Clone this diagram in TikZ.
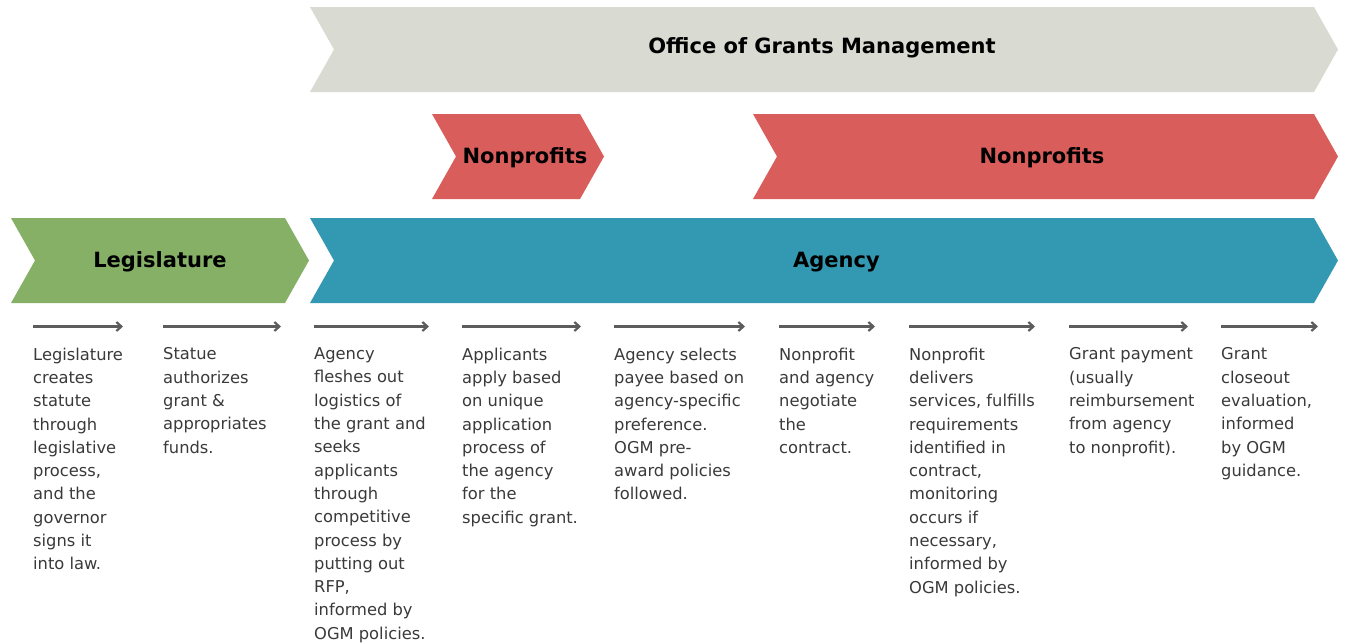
\documentclass[tikz,border=0pt]{standalone}
\usepackage{fontspec}
\setmainfont{DejaVu Sans}
\usepackage{tikz}
\usetikzlibrary{arrows.meta}
\definecolor{ogmgray}{HTML}{D9DAD1}
\definecolor{npred}{HTML}{D95D5A}
\definecolor{leggreen}{HTML}{86B066}
\definecolor{agblue}{HTML}{3398B2}
\definecolor{bodytext}{HTML}{3A3A3A}
\definecolor{arrowgray}{HTML}{5C5C5C}

% colour, left edge, right flat edge, top, bottom
\newcommand{\phasebar}[5]{%
  \fill[#1] (#2,#4) -- (#3,#4) -- ({#3+24},{(#4+#5)/2}) -- (#3,#5)
    -- (#2,#5) -- ({#2+24},{(#4+#5)/2}) -- cycle;}

\tikzset{
  barlabel/.style={anchor=base, inner sep=0pt, text=black,
    font=\fontsize{21}{25}\selectfont\bfseries},
  steptext/.style={anchor=north west, inner sep=0pt, align=left, text=bodytext,
    font=\fontsize{16.3}{23.3}\selectfont},
  steparrow/.style={arrowgray, line width=2.2pt,
    -{Straight Barb[length=5pt, width=9pt, line width=2.2pt]}}
}

\begin{document}
\begin{tikzpicture}[x=1pt, y=-1pt]
        \useasboundingbox (0,0) rectangle (1347,643);
        \fill[white] (0,0) rectangle (1347,643);

        % phase bars
        \phasebar{ogmgray}{310}{1314}{7}{92}
        \phasebar{npred}{432}{580}{114}{199}
        \phasebar{npred}{753}{1314}{114}{199}
        \phasebar{leggreen}{11}{285}{218}{303}
        \phasebar{agblue}{310}{1314}{218}{303}

        \node[barlabel] (ogm) at (822, 53) {Office of Grants Management};
        \node[barlabel] (np1) at (525, 163) {Nonprofits};
        \node[barlabel] (np2) at (1042, 163) {Nonprofits};
        \node[barlabel] (leg) at (160, 267.5) {Legislature};
        \node[barlabel] (agency) at (836.5, 267) {Agency};

        % steps
        \foreach \xa/\xb/\txt [count=\i] in {
                33/123/{Legislature\\creates\\statute\\through\\legislative\\process,\\and the\\governor\\signs it\\into law.},
                163/281/{Statue\\authorizes\\grant \&\\appropriates\\funds.},
                314/429/{Agency\\fleshes out\\logistics of\\the grant and\\seeks\\applicants\\through\\competitive\\process by\\putting out\\RFP,\\informed by\\OGM policies.},
                462/581/{Applicants\\apply based\\on unique\\application\\process of\\the agency\\for the\\specific grant.},
                614/745/{Agency selects\\payee based on\\agency-specific\\preference.\\OGM pre-\\award policies\\followed.},
                779/875/{Nonprofit\\and agency\\negotiate\\the\\contract.},
                909/1035/{Nonprofit\\delivers\\services, fulfills\\requirements\\identified in\\contract,\\monitoring\\occurs if\\necessary,\\informed by\\OGM policies.},
                1069/1188/{Grant payment\\(usually\\reimbursement\\from agency\\to nonprofit).},
                1221/1318/{Grant\\closeout\\evaluation,\\informed\\by OGM\\guidance.}} {
                        \coordinate (s\i) at (\xa, 326.5);
                        \coordinate (e\i) at (\xb, 326.5);
                        \draw[steparrow] (s\i) -- (e\i);
                        \node[steptext] (step\i) at (\xa, 347.6) {\txt};
                }
\end{tikzpicture}
\end{document}
